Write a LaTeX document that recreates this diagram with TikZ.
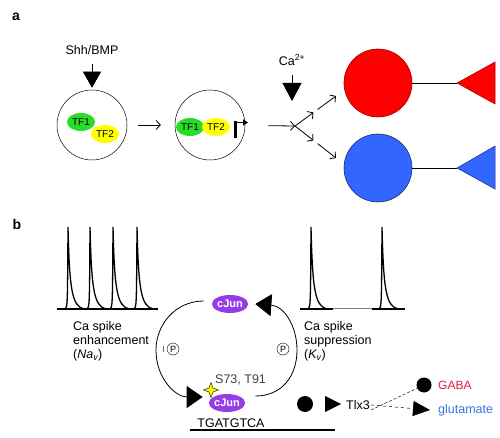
\documentclass[tikz,border=0pt]{standalone}
\usepackage{fontspec}
\setmainfont{Liberation Sans}
\usepackage{tikz}
\usetikzlibrary{arrows.meta,positioning,calc,shapes.geometric}
\definecolor{tfgreen}{RGB}{40,220,40}
\definecolor{tfyellow}{RGB}{255,255,0}
\definecolor{junpurple}{RGB}{150,60,230}
\definecolor{gabared}{RGB}{255,0,0}
\definecolor{darkred}{RGB}{150,0,0}
\definecolor{glublue}{RGB}{51,102,255}
\definecolor{darkblue}{RGB}{20,40,120}
\definecolor{gabatext}{RGB}{220,30,60}
\definecolor{glutext}{RGB}{50,120,220}
\tikzstyle{cell}=[draw,circle,line width=0.5pt,minimum size=70pt,inner sep=0pt]
\tikzstyle{tf}=[ellipse,minimum width=28pt,minimum height=18pt,inner sep=0pt,font=\fontsize{10}{12}\selectfont]
\tikzstyle{jun}=[ellipse,fill=junpurple,text=white,font=\bfseries\fontsize{11}{13}\selectfont,minimum width=36pt,minimum height=18pt,inner sep=0pt]
\tikzstyle{soma}=[circle,minimum size=68pt,inner sep=0pt,line width=0.6pt]
\tikzstyle{cue}=[-{Triangle[width=18pt,length=16pt]},line width=0.5pt]
\tikzstyle{flow}=[-{Straight Barb[length=4pt,width=9pt]},line width=0.8pt]
\tikzstyle{feedback}=[-{Triangle[width=22pt,length=16pt]},line width=0.8pt]
\tikzstyle{phos}=[draw,circle,minimum size=12pt,inner sep=0pt,font=\fontsize{9}{9}\selectfont]
\tikzstyle{blob}=[fill,circle,minimum size=16pt,inner sep=0pt]
\tikzstyle{spike}=[line width=1.3pt]

\begin{document}
\begin{tikzpicture}[x=1pt,y=-1pt,font=\fontsize{12.5}{14}\selectfont]
\useasboundingbox (0,0) rectangle (500,438);
\node[font=\bfseries\fontsize{14}{14}\selectfont] at (16,17) {a};
\node[inner sep=0pt] (shh) at (92,50) {Shh/BMP};
\node[cell] (cellA) at (92,125) {};
\node[tf,fill=tfgreen] (tfA1) at (81,122) {TF1};
\node[tf,fill=tfyellow] (tfA2) at (105,134) {TF2};
\draw[cue,shorten <=9pt,shorten >=2pt] (shh) -- (cellA.north);
\node[cell] (cellB) at (210,125) {};
\node[tf,fill=tfgreen] (tfB1) at (190,127) {TF1};
\node[tf,fill=tfyellow] (tfB2) at (216,127) {TF2};
\draw[line width=3pt] (235,138) -- (235,121.5);
\draw[line width=1.5pt,-{Triangle[length=5pt,width=6pt]}] (233.5,122.5) -- (248,122.5);
\draw[flow,shorten <=11pt,shorten >=14pt] (cellA) -- (cellB);
\coordinate (split) at (295,126);
\draw[flow,shorten <=23pt] (cellB) -- (split);
\node[inner sep=0pt] (ca) at (292,60) {Ca\textsuperscript{2+}};
\coordinate (caTip) at (292,101);
\draw[cue,-{Triangle[width=19pt,length=18pt]},shorten <=10pt] (ca) -- (caTip);
\node[soma,fill=gabared,draw=darkred] (red) at (378,83) {};
\node[soma,fill=glublue,draw=darkblue] (blue) at (378,168) {};
\coordinate (toRed) at (336,96);
\coordinate (toBlue) at (336,158);
\draw[flow] (split) -- ($(split)!0.45!(toRed)$);
\draw[flow] ($(split)!0.55!(toRed)$) -- (toRed);
\draw[flow] (split) -- ($(split)!0.45!(toBlue)$);
\draw[flow] ($(split)!0.55!(toBlue)$) -- (toBlue);
\coordinate (redSyn) at (457,83);
\coordinate (blueSyn) at (457,168);
\draw[line width=0.7pt] (red) -- (redSyn);
\draw[line width=0.7pt] (blue) -- (blueSyn);
\filldraw[fill=gabared,draw=darkred,line width=0.5pt] (redSyn) -- ++(38,-21) -- ++(0,42) -- cycle;
\filldraw[fill=glublue,draw=darkblue,line width=0.5pt] (blueSyn) -- ++(38,-22) -- ++(0,43) -- cycle;

\node[font=\bfseries\fontsize{14}{14}\selectfont] at (17,224) {b};
\foreach \sx in {68,90,113,137,311,382}
  \draw[spike] (\sx-3,309) .. controls (\sx-0.5,307) .. (\sx,227) .. controls (\sx+1.5,290) and (\sx+4,306) .. (\sx+16,309);
\draw[line width=2.5pt] (57,309) -- (158,309);
\draw[line width=2.5pt] (300,309) -- (333,309);
\draw[line width=0.6pt,black!50] (333,308) -- (372,308);
\draw[line width=2.5pt] (372,309) -- (405,309);
\node[anchor=west,align=left,inner sep=0pt] (enh) at (73,341) {Ca spike\\enhancement\\(\textit{Na\textsubscript{v}})};
\node[anchor=west,align=left,inner sep=0pt] (sup) at (304,341) {Ca spike\\suppression\\(\textit{K\textsubscript{v}})};
\node[jun] (topJun) at (230,304) {cJun};
\node[jun] (botJun) at (227,403) {cJun};
\node[star,star points=4,star point ratio=2.6,fill=yellow,draw,line width=0.4pt,minimum size=15pt,inner sep=0pt] (site) at (211,390) {};
\node[anchor=west,inner sep=0pt,text=black!75] (res) at (215,380) {S73, T91};
\node[inner sep=0pt] (motif) at (231,423) {TGATGTCA};
\draw[line width=2pt] (190,430) -- (335,430);
\draw[feedback] ($(topJun.west)+(-8,-3)$) .. controls (176,301) and (156,324) .. (156,350) .. controls (156,379) and (176,397) .. ($(botJun.west)+(-6,-6)$);
\draw[feedback] ($(botJun.east)+(10,-7)$) .. controls (282,396) and (297,376) .. (297,350) .. controls (297,326) and (284,306) .. ($(topJun.east)+(7,0)$);
\node[phos] (pL) at (173,349) {P};
\node[phos] (pR) at (283,349) {P};
\draw[line width=1pt,black!60] (163,346) -- (163,352);
\node[blob] (dotA) at (305,404) {};
\fill (325,396) -- (341,404) -- (325,412) -- cycle;
\node[inner sep=1pt] (tlx) at (358,405) {Tlx3};
\node[blob,minimum size=15pt] (dotB) at (424,385) {};
\node[anchor=west,inner sep=0pt,text=gabatext,font=\fontsize{12}{14}\selectfont] (gaba) at (438,385) {GABA};
\node[anchor=west,inner sep=0pt,text=glutext] (glu) at (438,410) {glutamate};
\coordinate (gluTip) at (430,410);
\draw[densely dashed,line width=0.5pt] ($(tlx.east)+(0,5)$) -- (dotB);
\draw[dashed,line width=0.5pt,-{Triangle[width=15pt,length=17pt]}] (tlx.east) -- (gluTip);
\end{tikzpicture}
\end{document}
